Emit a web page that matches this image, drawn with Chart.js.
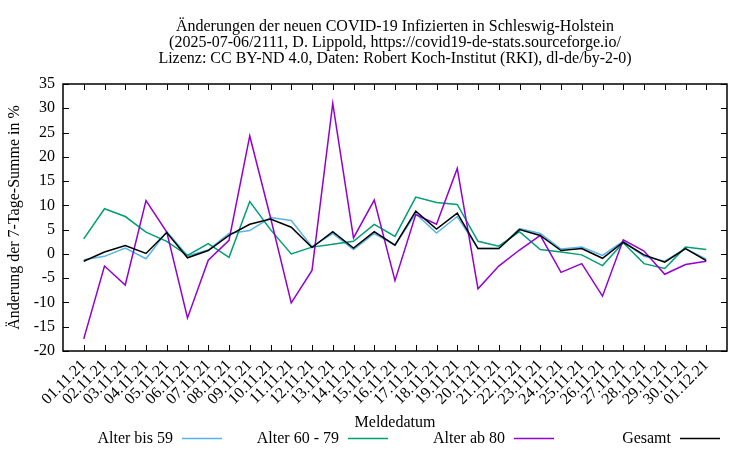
<!DOCTYPE html>
<html>
<head>
<meta charset="utf-8">
<script src="https://cdn.jsdelivr.net/npm/chart.js@4/dist/chart.umd.min.js"></script>
<style>
  html, body { margin: 0; padding: 0; background: #fff; }
  #wrap { width: 750px; height: 450px; }
</style>
</head>
<body>
<div id="wrap"><canvas id="chart" width="750" height="450"></canvas></div>
<script>
// Daten
const meldedatum = ['01.11.21', '02.11.21', '03.11.21', '04.11.21', '05.11.21', '06.11.21', '07.11.21', '08.11.21',
    '09.11.21', '10.11.21', '11.11.21', '12.11.21', '13.11.21', '14.11.21', '15.11.21', '16.11.21',
    '17.11.21', '18.11.21', '19.11.21', '20.11.21', '21.11.21', '22.11.21', '23.11.21', '24.11.21',
    '25.11.21', '26.11.21', '27.11.21', '28.11.21', '29.11.21', '30.11.21', '01.12.21'];

const alterBis59 = [-1.2, -0.5, 1.2, -1.0, 4.6, -0.4, 0.8, 4.2, 4.8, 7.5, 6.9, 1.5, 4.2, 0.9, 4.2, 1.8,
    8.3, 4.3, 7.7, 1.1, 1.1, 5.2, 4.2, 1.0, 1.4, -0.3, 2.6, -0.5, -1.5, 1.1, -1.1];
const alter60bis79 = [3.1, 9.3, 7.7, 4.5, 2.6, -0.3, 2.1, -0.7, 10.8, 5.0, 0.0, 1.4, 2.0, 2.6, 6.1, 3.6,
    11.7, 10.6, 10.2, 2.6, 1.6, 4.6, 0.9, 0.4, -0.2, -2.4, 2.3, -2.0, -3.0, 1.4, 0.9];
const alterAb80 = [-17.5, -2.5, -6.4, 11.0, 4.5, -13.2, -1.3, 2.8, 24.3, 7.5, -10.1, -3.4, 31.0, 3.3, 11.1, -5.5,
    8.1, 6.1, 17.6, -7.2, -2.5, 0.8, 3.8, -3.8, -2.0, -8.7, 2.9, 0.6, -4.2, -2.2, -1.5];
const gesamt = [-1.5, 0.4, 1.7, 0.1, 4.4, -0.8, 0.7, 3.8, 6.1, 7.2, 5.5, 1.3, 4.6, 1.2, 4.6, 1.8,
    8.8, 5.1, 8.4, 1.1, 1.1, 5.0, 3.8, 0.7, 1.1, -0.9, 2.4, -0.2, -1.7, 1.1, -1.4];

const yTicks = [-20, -15, -10, -5, 0, 5, 10, 15, 20, 25, 30, 35];

const titel = [
    'Änderungen der neuen COVID-19 Infizierten in Schleswig-Holstein',
    '(2025-07-06/2111, D. Lippold, https://covid19-de-stats.sourceforge.io/',
    'Lizenz: CC BY-ND 4.0, Daten: Robert Koch-Institut (RKI), dl-de/by-2-0)'
];

const serien = [
    { label: 'Alter bis 59', data: alterBis59, color: '#56b4e9', order: 3 },
    { label: 'Alter 60 - 79', data: alter60bis79, color: '#009e73', order: 2 },
    { label: 'Alter ab 80', data: alterAb80, color: '#9400d3', order: 1 },
    { label: 'Gesamt', data: gesamt, color: '#000000', order: 0 }
];

const FONT = "'Liberation Serif', 'DejaVu Serif', serif";

// Rahmen, Ticks nach innen, Titel, Achsentitel, Legende (gnuplot-Stil)
const gnuplotDeko = {
    id: 'gnuplotDeko',
    afterDatasetsDraw(chart) {
        const ctx = chart.ctx;
        const a = chart.chartArea;
        const xs = chart.scales.x;
        const ys = chart.scales.y;
        ctx.save();
        ctx.strokeStyle = '#000';
        ctx.lineWidth = 1.5;
        ctx.strokeRect(a.left, a.top, a.right - a.left, a.bottom - a.top);

        ctx.lineWidth = 1;
        ctx.beginPath();
        yTicks.forEach(function (v) {
            const y = Math.round(ys.getPixelForValue(v)) + 0.5;
            ctx.moveTo(a.left, y); ctx.lineTo(a.left + 6, y);
            ctx.moveTo(a.right, y); ctx.lineTo(a.right - 6, y);
        });
        meldedatum.forEach(function (d, i) {
            const x = Math.round(xs.getPixelForValue(i)) + 0.5;
            ctx.moveTo(x, a.bottom); ctx.lineTo(x, a.bottom - 6);
            ctx.moveTo(x, a.top); ctx.lineTo(x, a.top + 6);
        });
        ctx.stroke();

        ctx.fillStyle = '#000';
        ctx.font = '16px ' + FONT;
        ctx.textAlign = 'center';
        ctx.textBaseline = 'middle';
        const mitte = (a.left + a.right) / 2;
        titel.forEach(function (t, i) {
            ctx.fillText(t, mitte, 27 + i * 16);
        });

        ctx.fillText('Meldedatum', mitte, 423);

        ctx.save();
        ctx.translate(15, (a.top + a.bottom) / 2);
        ctx.rotate(-Math.PI / 2);
        ctx.fillText('Änderung der 7-Tage-Summe in %', 0, 0);
        ctx.restore();

        // Legende: Text, dann Linienmuster
        const linienEnde = [222, 388, 554, 720];
        ctx.textAlign = 'right';
        serien.forEach(function (s, i) {
            const x1 = linienEnde[i];
            const x0 = x1 - 40;
            ctx.fillText(s.label, x0 - 9, 439);
            ctx.strokeStyle = s.color;
            ctx.lineWidth = 1.5;
            ctx.beginPath();
            ctx.moveTo(x0, 438.5); ctx.lineTo(x1, 438.5);
            ctx.stroke();
        });
        ctx.restore();
    }
};

new Chart(document.getElementById('chart').getContext('2d'), {
    type: 'line',
    data: {
        datasets: serien.map(function (s) {
            return {
                label: s.label,
                data: s.data.map(function (v, i) { return { x: i, y: v }; }),
                borderColor: s.color,
                backgroundColor: s.color,
                borderWidth: 1.5,
                pointRadius: 0,
                tension: 0,
                order: s.order
            };
        })
    },
    options: {
        responsive: false,
        animation: false,
        layout: { padding: { top: 84, right: 23, bottom: 0, left: 0 } },
        plugins: {
            legend: { display: false },
            title: { display: false },
            tooltip: { enabled: false }
        },
        scales: {
            x: {
                type: 'linear',
                min: -1,
                max: 31,
                grid: { display: false, drawTicks: false },
                border: { display: false },
                afterFit: function (scale) { scale.height = 99; },
                ticks: {
                    stepSize: 1,
                    autoSkip: false,
                    maxRotation: 45,
                    minRotation: 45,
                    padding: 5,
                    color: '#000',
                    font: { family: FONT, size: 16 },
                    callback: function (v) { return meldedatum[v] || ''; }
                }
            },
            y: {
                min: -20,
                max: 35,
                grid: { display: false, drawTicks: false },
                border: { display: false },
                afterFit: function (scale) { scale.width = 63; },
                ticks: {
                    stepSize: 5,
                    padding: 8,
                    color: '#000',
                    font: { family: FONT, size: 16 }
                }
            }
        }
    },
    plugins: [gnuplotDeko]
});
</script>
</body>
</html>
